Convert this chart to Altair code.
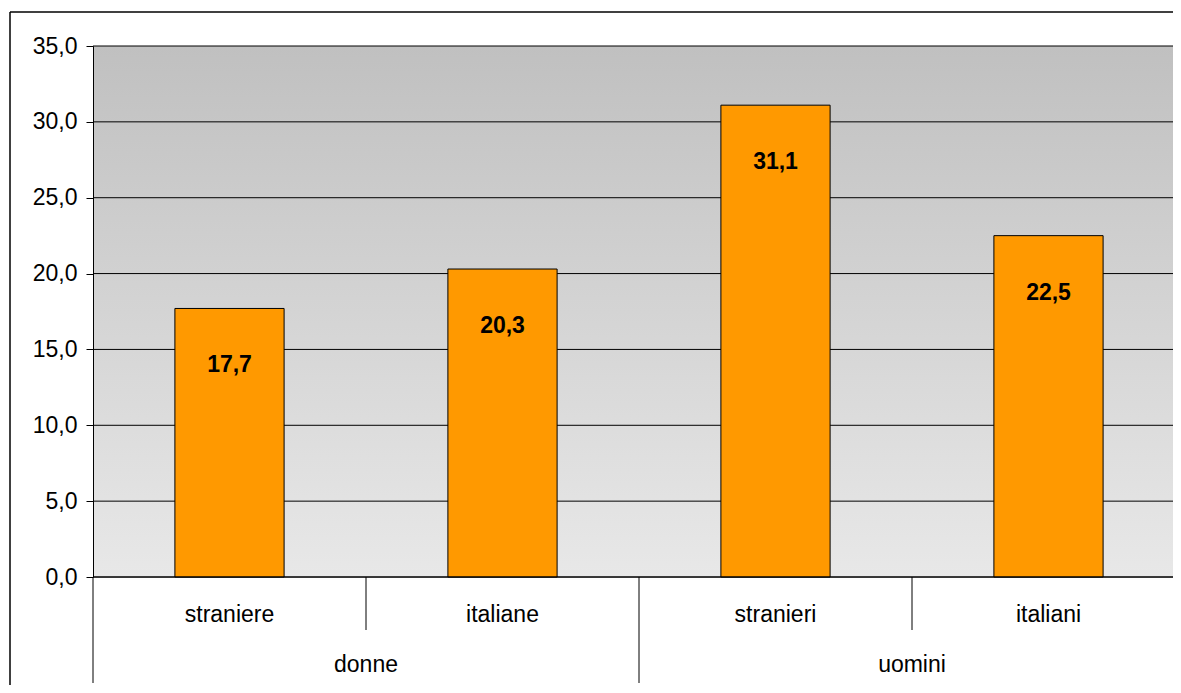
import altair as alt
import pandas as pd

# ---- data ----
groups = ["donne", "donne", "uomini", "uomini"]
subs = ["straniere", "italiane", "stranieri", "italiani"]
values = [17.7, 20.3, 31.1, 22.5]
group_names = ["donne", "uomini"]
y_ticks = [0, 5, 10, 15, 20, 25, 30, 35]

W, H = 1080, 531
FONT = "Liberation Sans"
FS = 23

df = pd.DataFrame({"group": groups, "sub": subs, "value": values, "idx": list(range(len(subs)))})
gdf = pd.DataFrame({"group": group_names, "gidx": list(range(len(group_names)))})
ydf = pd.DataFrame({"v": y_ticks})
bounds = []
for i in range(len(subs) + 1):
    is_group = i == 0 or i == len(subs) or groups[i] != groups[i - 1]
    bounds.append({"pos": i, "long": is_group})
bdf = pd.DataFrame(bounds)

xscale = alt.Scale(domain=[0, 4], range=[0, 1092])
yscale = alt.Scale(domain=[0, 35], nice=False)

bg = alt.Chart(pd.DataFrame({"a": [0]})).mark_rect(
    fill=alt.Gradient(
        gradient="linear",
        stops=[alt.GradientStop(color="#c0c0c0", offset=0),
               alt.GradientStop(color="#e8e8e8", offset=1)],
        x1=0, x2=0, y1=0, y2=1,
    )
).encode(x=alt.value(0), x2=alt.value(W), y=alt.value(0), y2=alt.value(H))

grid = alt.Chart(ydf).mark_rule(color="black", strokeWidth=1).encode(
    y=alt.Y("v:Q", scale=yscale, title=None,
            axis=alt.Axis(values=y_ticks, labelExpr="replace(format(datum.value, '.1f'), '.', ',')",
                          labelFontSize=FS, labelColor="black", labelFont=FONT,
                          domainColor="black", domainWidth=1, tickColor="black",
                          tickSize=7, labelPadding=9, grid=False, zindex=1)),
    x=alt.value(0), x2=alt.value(W),
)

bars = alt.Chart(df).transform_calculate(
    x0="datum.idx + 0.3", x1="datum.idx + 0.7"
).mark_rect(fill="#ff9900", stroke="black", strokeWidth=1).encode(
    x=alt.X("x0:Q", scale=xscale, axis=None),
    x2="x1:Q",
    y=alt.Y("value:Q", scale=yscale),
    y2=alt.datum(0),
)

labels = alt.Chart(df).transform_calculate(
    xc="datum.idx + 0.5",
    lab="replace(format(datum.value, '.1f'), '.', ',')",
).mark_text(fontWeight="bold", fontSize=FS, font=FONT, dy=57, baseline="middle", color="black").encode(
    x=alt.X("xc:Q", scale=xscale),
    y=alt.Y("value:Q", scale=yscale),
    text="lab:N",
)

sublabels = alt.Chart(df).transform_calculate(xc="datum.idx + 0.5").mark_text(
    fontSize=FS, font=FONT, baseline="middle", color="black"
).encode(x=alt.X("xc:Q", scale=xscale), y=alt.value(H + 38), text="sub:N")

grouplabels = alt.Chart(gdf).transform_calculate(xc="datum.gidx * 2 + 1").mark_text(
    fontSize=FS, font=FONT, baseline="middle", color="black"
).encode(x=alt.X("xc:Q", scale=xscale), y=alt.value(H + 88), text="group:N")

seps_short = alt.Chart(bdf).transform_filter("!datum.long").mark_rule(color="black", strokeWidth=1).encode(
    x=alt.X("pos:Q", scale=xscale), y=alt.value(H), y2=alt.value(H + 53)
)
seps_long = alt.Chart(bdf).transform_filter("datum.long").mark_rule(color="black", strokeWidth=1).encode(
    x=alt.X("pos:Q", scale=xscale), y=alt.value(H), y2=alt.value(H + 106)
)

xaxis_line = alt.Chart(pd.DataFrame({"a": [0]})).mark_rule(color="black", strokeWidth=1).encode(
    y=alt.value(H), x=alt.value(0), x2=alt.value(W + 20)
)

frame_left = alt.Chart(pd.DataFrame({"a": [0]})).mark_rule(color="black", strokeWidth=1.5).encode(
    x=alt.value(-83), y=alt.value(-34), y2=alt.value(H + 130)
)
frame_top = alt.Chart(pd.DataFrame({"a": [0]})).mark_rule(color="black", strokeWidth=1.5).encode(
    y=alt.value(-34), x=alt.value(-83), x2=alt.value(W + 20)
)

chart = alt.layer(
    bg, grid, bars, labels, xaxis_line, seps_short, seps_long, sublabels, grouplabels, frame_left, frame_top
).properties(
    width=W, height=H,
    autosize=alt.AutoSizeParams(type="none"),
    padding={"left": 85, "top": 38, "right": 0, "bottom": 108},
).configure_view(stroke=None).configure(font=FONT)

chart.save("out.html", embed_options={"renderer": "svg", "actions": False})
